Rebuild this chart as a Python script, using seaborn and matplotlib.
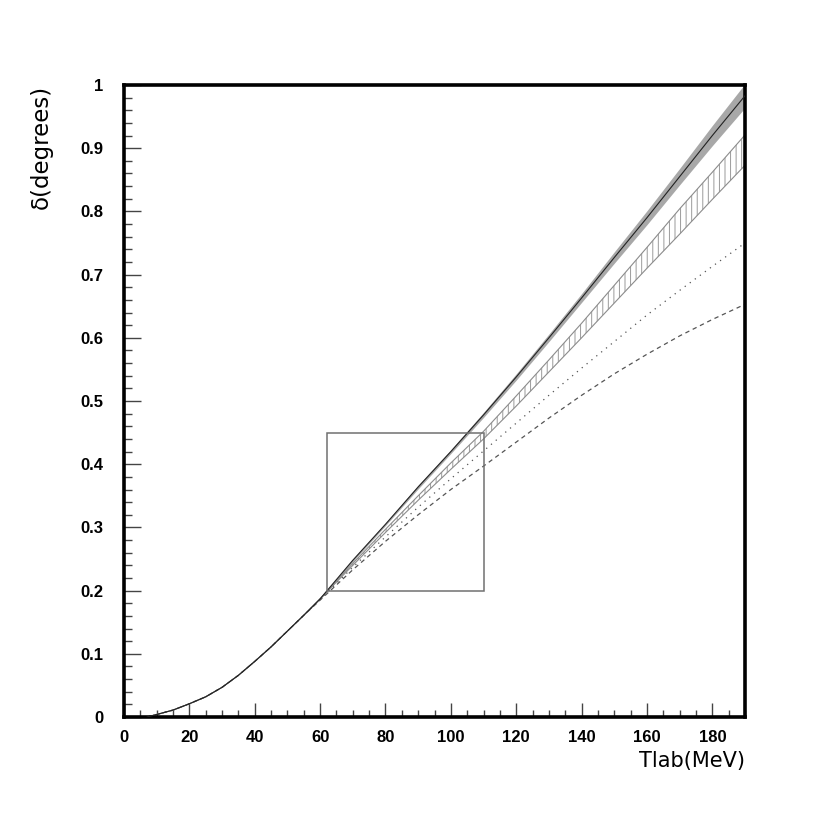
import numpy as np
import matplotlib
matplotlib.use("Agg")
import matplotlib.pyplot as plt
import seaborn as sns
from matplotlib.patches import Rectangle
from matplotlib.ticker import MultipleLocator

# =========================================
# DATA
# =========================================

# common low-energy part, shared by all curves
t_low = [7, 10, 15, 20, 25, 30, 35, 40, 45, 50, 55]
d_low = [0.0, 0.004, 0.011, 0.021, 0.032, 0.047, 0.066, 0.088, 0.111, 0.136, 0.161]

t_high = [60, 70, 80, 90, 100, 110, 120, 130, 140, 150, 160, 170, 180, 190]

solid_mid = [0.187, 0.248, 0.305, 0.364, 0.420, 0.478, 0.538, 0.600, 0.663,
             0.727, 0.790, 0.855, 0.920, 0.983]
solid_err = [0.001, 0.002, 0.002, 0.003, 0.003, 0.004, 0.005, 0.006, 0.007,
             0.009, 0.011, 0.013, 0.016, 0.019]

hatch_up = [0.187, 0.243, 0.297, 0.350, 0.402, 0.452, 0.508, 0.565, 0.623,
            0.683, 0.743, 0.804, 0.862, 0.921]
hatch_lo = [0.187, 0.240, 0.292, 0.343, 0.392, 0.440, 0.492, 0.546, 0.600,
            0.655, 0.710, 0.764, 0.819, 0.873]

dotted = [0.186, 0.237, 0.285, 0.332, 0.377, 0.421, 0.465, 0.509, 0.552,
          0.594, 0.636, 0.675, 0.713, 0.750]
dashed = [0.185, 0.233, 0.278, 0.320, 0.360, 0.397, 0.435, 0.473, 0.509,
          0.543, 0.574, 0.603, 0.629, 0.653]

# zoom box drawn on the plot
box_t = [62, 110]
box_d = [0.2, 0.45]

y_tick_labels = ["0", "0.1", "0.2", "0.3", "0.4", "0.5", "0.6", "0.7",
                 "0.8", "0.9", "1"]

# =========================================
# STYLE
# =========================================

sns.set_style("white")
plt.rcParams["font.family"] = ["DejaVu Sans"]
plt.rcParams["hatch.color"] = "#9a9a9a"
plt.rcParams["hatch.linewidth"] = 0.7

fig = plt.figure(figsize=(8.3, 8.3), dpi=100)
ax = fig.add_axes([0.1494, 0.1361, 0.7482, 0.7615])

def full(vals):
    return np.array(d_low + list(vals))

T = np.array(t_low + t_high)
mid = full(solid_mid)
err = np.array([0.0] * len(t_low) + solid_err)
h_up = full(hatch_up)
h_lo = full(hatch_lo)

# =========================================
# BANDS
# =========================================

ax.fill_between(T, mid - err, mid + err, color="#a8a8a8", lw=0, zorder=1)
ax.fill_between(T, h_lo, h_up, facecolor="none", edgecolor="#9a9a9a",
                hatch="|||", lw=0, zorder=1)

# =========================================
# LINES
# =========================================

sns.lineplot(x=T, y=h_up, ax=ax, color="#8c8c8c", lw=0.8, zorder=2)
sns.lineplot(x=T, y=h_lo, ax=ax, color="#8c8c8c", lw=0.8, zorder=2)
sns.lineplot(x=T, y=full(dotted), ax=ax, color="#555555", lw=0.9,
             zorder=2).lines[-1].set_dashes((1, 4))
sns.lineplot(x=T, y=full(dashed), ax=ax, color="#555555", lw=0.9,
             zorder=2).lines[-1].set_dashes((3.5, 3))
sns.lineplot(x=T, y=mid, ax=ax, color="#222222", lw=0.8, zorder=3)

ax.add_patch(Rectangle((box_t[0], box_d[0]), box_t[1] - box_t[0],
                       box_d[1] - box_d[0], fill=False,
                       edgecolor="#707070", lw=1.1, zorder=4))

# =========================================
# AXES
# =========================================

ax.set_xlim(0, 190)
ax.set_ylim(0, 1)

ax.xaxis.set_major_locator(MultipleLocator(20))
ax.xaxis.set_minor_locator(MultipleLocator(5))
ax.yaxis.set_minor_locator(MultipleLocator(0.02))
ax.set_yticks(np.arange(0, 1.01, 0.1))
ax.set_yticklabels(y_tick_labels)

ax.tick_params(which="both", direction="in", bottom=True, left=True,
               top=False, right=False, color="#444444", width=1.0,
               labelcolor="black")
ax.tick_params(which="major", axis="x", length=10, pad=9)
ax.tick_params(which="minor", axis="x", length=5)
ax.tick_params(which="major", axis="y", length=12, pad=15)
ax.tick_params(which="minor", axis="y", length=6)

for lab in ax.get_xticklabels() + ax.get_yticklabels():
    lab.set_fontweight("bold")
    lab.set_fontsize(12)
    lab.set_family(["Liberation Sans", "DejaVu Sans"])

for s in ax.spines.values():
    s.set_linewidth(2.6)
    s.set_color("black")
    s.set_visible(True)

ax.set_xlabel("Tlab(MeV)", fontsize=15, loc="right", labelpad=5,
              color="black")
ax.set_ylabel("δ(degrees)", fontsize=16.5, loc="top", color="black")
ax.yaxis.set_label_coords(-0.115, 1.0)

fig.savefig("out.png", dpi=100, facecolor="white")
plt.close(fig)
